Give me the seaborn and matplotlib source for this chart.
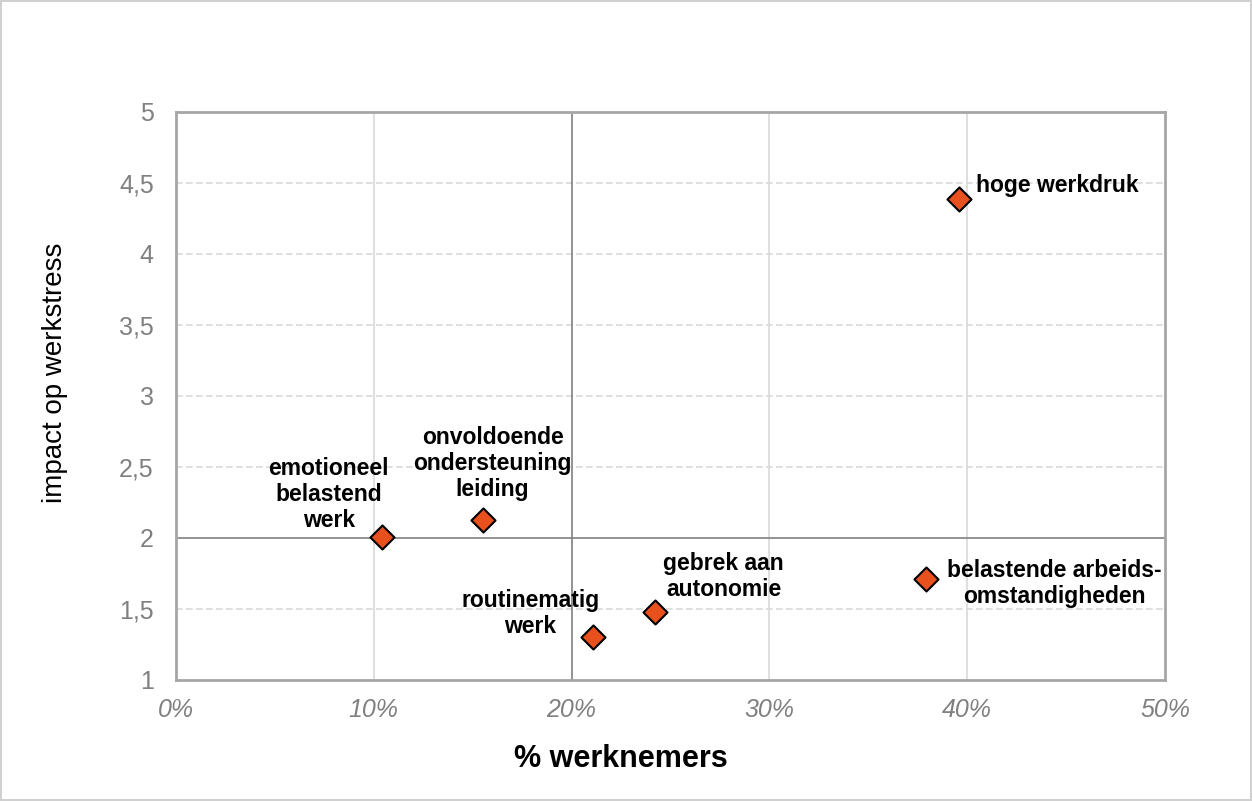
import matplotlib
matplotlib.use("Agg")
import matplotlib.pyplot as plt
from matplotlib.ticker import FuncFormatter, MultipleLocator
import pandas as pd
import seaborn as sns

# data
labels = [
    "emotioneel\nbelastend\nwerk",
    "onvoldoende\nondersteuning\nleiding",
    "routinematig\nwerk",
    "gebrek aan\nautonomie",
    "belastende arbeids-\nomstandigheden",
    "hoge werkdruk",
]
pct_werknemers = [10.4, 15.5, 21.1, 24.2, 37.9, 39.6]
impact = [2.01, 2.13, 1.30, 1.48, 1.71, 4.39]

# label placement (offset in pixels from the marker, horizontal alignment)
label_offsets = [(-53, 42), (10, 56), (-63, 24), (69, 35), (129, -4), (17, 13)]
label_ha = ["center", "center", "center", "center", "center", "left"]

df = pd.DataFrame({"pct": pct_werknemers, "impact": impact, "label": labels})

sns.set_style("white")
plt.rcParams["font.family"] = ["Liberation Sans", "DejaVu Sans"]

fig = plt.figure(figsize=(12.52, 8.01), dpi=100)
fig.patch.set_edgecolor("#d0d0d0")
fig.patch.set_linewidth(1.5)
ax = fig.add_axes([0.1406, 0.1511, 0.7899, 0.7091])

sns.scatterplot(data=df, x="pct", y="impact", marker="D", s=150,
                color="#e8501e", edgecolor="black", linewidth=1.5,
                ax=ax, zorder=5, legend=False)

ax.set_xlim(0, 50)
ax.set_ylim(1, 5)
ax.xaxis.set_major_locator(MultipleLocator(10))
ax.yaxis.set_major_locator(MultipleLocator(0.5))
ax.xaxis.set_major_formatter(FuncFormatter(lambda v, p: f"{v:.0f}%"))
ax.yaxis.set_major_formatter(FuncFormatter(lambda v, p: f"{v:g}".replace(".", ",")))

# gridlines: solid vertical, dashed horizontal
for xv in [10, 30, 40]:
    ax.axvline(xv, color="#d9d9d9", lw=1.2, zorder=1)
for yv in [1.5, 2.5, 3, 3.5, 4, 4.5]:
    ax.axhline(yv, color="#d9d9d9", lw=1.2, ls=(0, (4, 2)), zorder=1)
ax.axvline(20, color="#808080", lw=1.2, zorder=2)
ax.axhline(2, color="#808080", lw=1.2, zorder=2)

for sp in ax.spines.values():
    sp.set_color("#a6a6a6")
    sp.set_linewidth(2)

ax.tick_params(axis="both", length=0, labelsize=18, labelcolor="#808080")
ax.tick_params(axis="x", pad=13)
ax.tick_params(axis="y", pad=16)
for t in ax.get_xticklabels():
    t.set_fontstyle("italic")

ax.set_xlabel("% werknemers", fontsize=22, fontweight="bold", color="black")
ax.xaxis.set_label_coords(0.45, -0.113)
ax.set_ylabel("impact op werkstress", fontsize=20, color="black")
ax.yaxis.set_label_coords(-0.109, 0.54)

for (x, y, lab), (dx, dy), ha in zip(zip(pct_werknemers, impact, labels), label_offsets, label_ha):
    ax.annotate(lab, (x, y), xytext=(dx * 0.72, dy * 0.72), textcoords="offset points",
                ha=ha, va="center", fontsize=16.5, fontweight="bold", color="black",
                linespacing=1.15, zorder=6)

fig.savefig("out.png", dpi=100)
